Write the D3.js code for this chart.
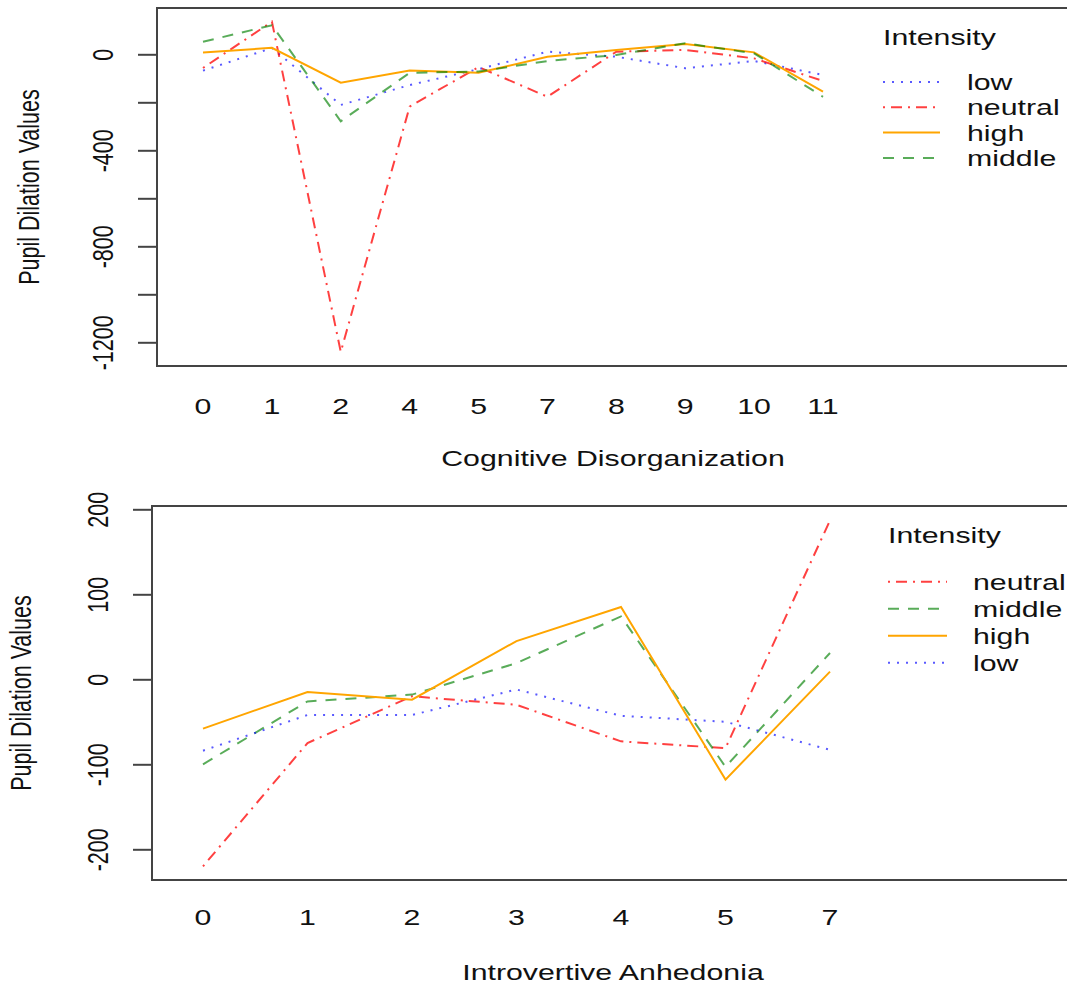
<!DOCTYPE html>
<html>
<head>
<meta charset="utf-8">
<script src="https://cdn.jsdelivr.net/npm/d3@7"></script>
<style>
  body { margin: 0; background: #fff; }
  svg { display: block; font-family: "Liberation Sans", Arial, sans-serif; }
</style>
</head>
<body>
<svg width="1067" height="989"></svg>
<script>
// Top panel data: Cognitive Disorganization
const topCats = ["0", "1", "2", "4", "5", "7", "8", "9", "10", "11"];
const topLow = [-68, 26, -211, -128, -62, 11, -10, -58, -28, -86];
const topNeutral = [-57, 136, -1240, -218, -53, -177, 11, 18, -17, -111];
const topHigh = [7, 27, -118, -68, -77, -10, 18, 43, 8, -156];
const topMiddle = [52, 121, -279, -77, -72, -28, -3, 46, 4, -177];
const topTicks = [0, -200, -400, -600, -800, -1000, -1200];
const topLabelled = [0, -400, -800, -1200];

// Bottom panel data: Introvertive Anhedonia
const botCats = ["0", "1", "2", "3", "4", "5", "7"];
const botNeutral = [-220, -75, -20, -30, -73, -81, 187];
const botMiddle = [-100, -26, -18, 19, 74, -103, 31];
const botHigh = [-58, -15, -24, 45, 85, -118, 9];
const botLow = [-84, -42, -42, -12, -43, -50, -83];
const botTicks = [-200, -100, 0, 100, 200];

const styles = {
    low:     {color: "rgba(0,0,255,0.65)", dash: "2,7"},
    neutral: {color: "rgba(255,0,0,0.75)", dash: "2,6,11,6"},
    high:    {color: "#FFA500", dash: null},
    middle:  {color: "rgba(0,128,0,0.65)", dash: "11,9"}
};

const svg = d3.select("svg");
const sx = 1.41; // the picture is stretched sideways, text too
const font = 21.5;

function stretchedText(g, x, y, txt, anchor) {
    return g.append("text")
        .attr("transform", `translate(${x},${y}) scale(${sx},1)`)
        .attr("text-anchor", anchor || "start")
        .style("font-size", font + "px")
        .attr("fill", "#111")
        .text(txt);
}

function drawPanel(p) {
    const g = svg.append("g");
    const x = d3.scalePoint().domain(p.cats).range(p.xRange);
    const y = d3.scaleLinear().domain(p.yDomain).range(p.yRange);

    // series lines
    const line = d3.line().x((d, i) => x(p.cats[i])).y(d => y(d));
    p.series.forEach(s => {
        g.append("path")
            .datum(s.values)
            .attr("fill", "none")
            .attr("stroke", styles[s.name].color)
            .attr("stroke-width", 2)
            .attr("stroke-dasharray", styles[s.name].dash)
            .attr("d", line);
    });

    // y axis
    const yAxis = g.append("g")
        .attr("transform", `translate(${p.box.left},0)`)
        .call(d3.axisLeft(y).tickValues(p.ticks).tickSize(19)
            .tickFormat(d => p.labelled.includes(d) ? d : ""));
    yAxis.select(".domain").remove();
    yAxis.selectAll("line").attr("stroke", "#444").attr("stroke-width", 2);
    yAxis.selectAll("text")
        .attr("x", null).attr("dy", null)
        .attr("transform", `translate(-44,0) scale(${sx},1) rotate(-90)`)
        .attr("text-anchor", "middle")
        .attr("fill", "#111")
        .style("font-size", font + "px")
        .style("font-family", "Liberation Sans, Arial, sans-serif");

    // box
    g.append("rect")
        .attr("x", p.box.left).attr("y", p.box.top)
        .attr("width", 1080 - p.box.left).attr("height", p.box.bottom - p.box.top)
        .attr("fill", "none").attr("stroke", "#444").attr("stroke-width", 2);

    // x labels (no ticks)
    p.cats.forEach(c => stretchedText(g, x(c), p.xLabelY, c, "middle"));
    stretchedText(g, 613, p.titleY, p.title, "middle");

    // y title
    g.append("text")
        .attr("transform", `translate(${p.yTitleX},${(p.box.top + p.box.bottom) / 2}) scale(${sx},1) rotate(-90)`)
        .attr("text-anchor", "middle")
        .style("font-size", font + "px")
        .attr("fill", "#111")
        .text("Pupil Dilation Values");

    // legend
    const L = p.legend;
    stretchedText(g, L.x, L.titleY, "Intensity");
    p.legendOrder.forEach((name, i) => {
        const ly = L.firstY + i * L.step;
        g.append("line")
            .attr("x1", L.x).attr("x2", L.x + L.len)
            .attr("y1", ly).attr("y2", ly)
            .attr("stroke", styles[name].color)
            .attr("stroke-width", 2)
            .attr("stroke-dasharray", styles[name].dash);
        stretchedText(g, L.textX, ly + 8, name);
    });
}

drawPanel({
    cats: topCats,
    xRange: [203, 823],
    yDomain: [-1200, 0],
    yRange: [342.3, 54.3],
    ticks: topTicks,
    labelled: topLabelled,
    box: {left: 157, top: 8, bottom: 366},
    series: [
        {name: "low", values: topLow},
        {name: "neutral", values: topNeutral},
        {name: "high", values: topHigh},
        {name: "middle", values: topMiddle}
    ],
    xLabelY: 414,
    title: "Cognitive Disorganization",
    titleY: 466,
    yTitleX: 39,
    legend: {x: 883, textX: 967, len: 57, titleY: 45, firstY: 82, step: 25.3},
    legendOrder: ["low", "neutral", "high", "middle"]
});

drawPanel({
    cats: botCats,
    xRange: [203, 830],
    yDomain: [-200, 200],
    yRange: [849.3, 509.3],
    ticks: botTicks,
    labelled: botTicks,
    box: {left: 152, top: 506, bottom: 880},
    series: [
        {name: "neutral", values: botNeutral},
        {name: "middle", values: botMiddle},
        {name: "high", values: botHigh},
        {name: "low", values: botLow}
    ],
    xLabelY: 925,
    title: "Introvertive Anhedonia",
    titleY: 980,
    yTitleX: 31,
    legend: {x: 888, textX: 973, len: 59, titleY: 543, firstY: 581.7, step: 27},
    legendOrder: ["neutral", "middle", "high", "low"]
});
</script>
</body>
</html>
